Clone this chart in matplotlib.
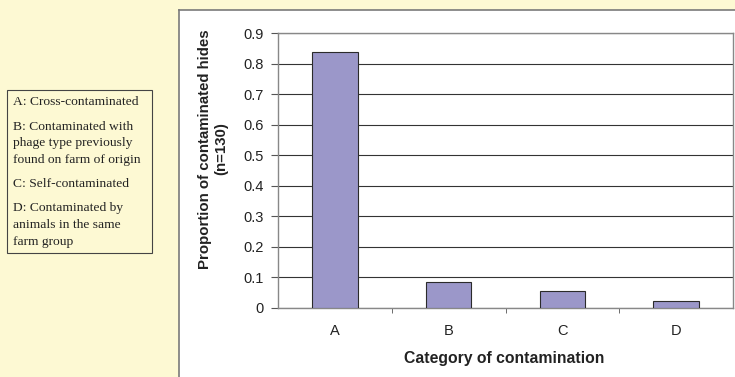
import matplotlib.pyplot as plt
from matplotlib.patches import Rectangle

categories = ["A", "B", "C", "D"]
proportions = [0.84, 0.083, 0.054, 0.023]
yticks = [0, 0.1, 0.2, 0.3, 0.4, 0.5, 0.6, 0.7, 0.8, 0.9]
key_lines = [
    "A: Cross-contaminated",
    "B: Contaminated with",
    "phage type previously",
    "found on farm of origin",
    "C: Self-contaminated",
    "D: Contaminated by",
    "animals in the same",
    "farm group",
]
# vertical pixel position of each key line
key_ypix = [102, 127, 143, 160, 184, 208, 225, 242]

W, H = 735, 377
fig = plt.figure(figsize=(7.35, 3.77), dpi=100)
fig.patch.set_facecolor("#fdf9d3")

# white chart area with grey border (runs off the right/bottom edge)
bg = fig.add_axes([179 / W, -0.05, 0.9, 1 - 9.5 / H + 0.05], zorder=-5)
bg.set_facecolor("white")
bg.set_xticks([])
bg.set_yticks([])
for side in bg.spines.values():
    side.set_color("#7a7a7a")
    side.set_linewidth(1.2)

ax = fig.add_axes([278 / W, 1 - 307.7 / H, 455 / W, 274.4 / H])
ax.set_facecolor("white")
x = range(len(categories))
ax.bar(x, proportions, width=0.4, color="#9b97c9", edgecolor="#2b2b2b",
       linewidth=0.8, zorder=3)
ax.set_xlim(-0.5, 3.5)
ax.set_ylim(0, 0.9)
ax.set_yticks(yticks)
ax.set_yticklabels(["0"] + ["%.1f" % v for v in yticks[1:]])
ax.yaxis.grid(True, color="#333333", linewidth=0.8, zorder=1)
ax.set_axisbelow(True)

ax.set_xticks(list(x))
ax.set_xticklabels(categories)
ax.set_xticks([0.5, 1.5, 2.5], minor=True)
ax.tick_params(axis="x", which="major", length=0, pad=12)
ax.tick_params(axis="x", which="minor", length=3.6, color="#555555")
ax.tick_params(axis="y", length=5, color="#555555", pad=5.5)
for lab in ax.get_xticklabels() + ax.get_yticklabels():
    lab.set_fontfamily("Liberation Sans")
    lab.set_fontsize(10.5)
    lab.set_color("#222222")

for side in ["left", "bottom", "top", "right"]:
    ax.spines[side].set_color("#888888")
    ax.spines[side].set_linewidth(1.0)

fig.text(504.5 / W, 1 - 358.5 / H, "Category of contamination",
         fontfamily="Liberation Sans", fontsize=11.3, fontweight="bold",
         color="#222222", ha="center", va="center")
fig.text(213 / W, 1 - 149 / H, "Proportion of contaminated hides\n(n=130)",
         fontfamily="Liberation Sans", fontsize=10.8, fontweight="bold",
         color="#222222", ha="center", va="center", rotation=90,
         multialignment="center")

# key box on the left
fig.patches.append(Rectangle((7 / W, 1 - 253 / H), 145 / W, 163 / H,
                             transform=fig.transFigure, facecolor="none",
                             edgecolor="#444444", linewidth=0.8))
for txt, yp in zip(key_lines, key_ypix):
    fig.text(12.5 / W, 1 - yp / H, txt, fontfamily="Liberation Serif",
             fontsize=9.7, color="#222222", va="center")

fig.savefig("out.png", dpi=100, facecolor=fig.get_facecolor())
